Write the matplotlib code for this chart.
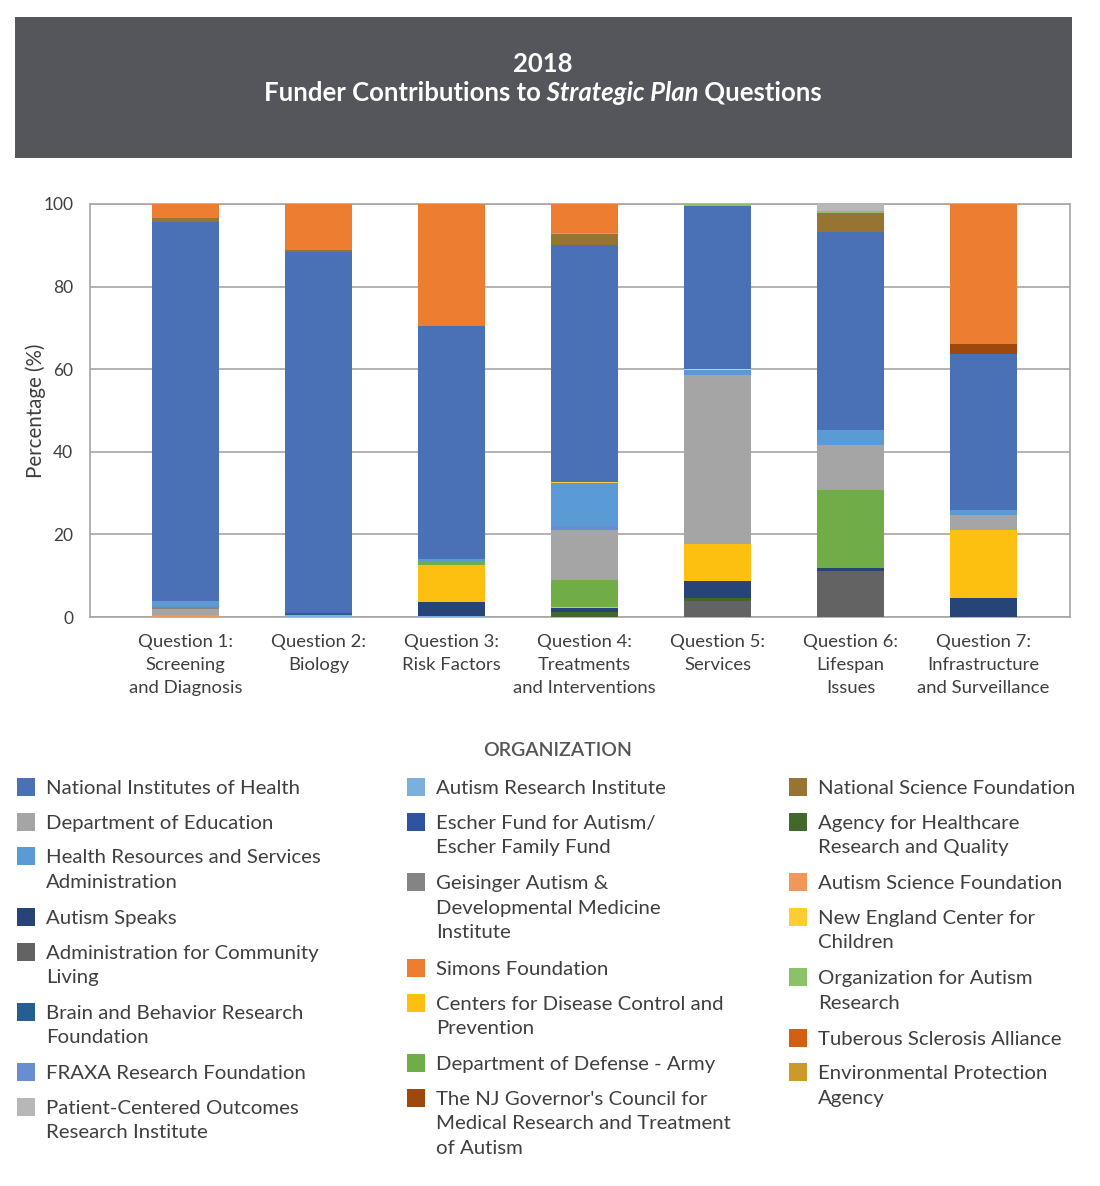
import matplotlib
matplotlib.use("Agg")
import matplotlib.pyplot as plt
from matplotlib.patches import Rectangle
from matplotlib.text import Annotation
import numpy as np

# figure size in pixels
W, H = 1100, 1186

questions = [
    "Question 1:\nScreening\nand Diagnosis",
    "Question 2:\nBiology",
    "Question 3:\nRisk Factors",
    "Question 4:\nTreatments\nand Interventions",
    "Question 5:\nServices",
    "Question 6:\nLifespan\nIssues",
    "Question 7:\nInfrastructure\nand Surveillance",
]

# percentage share of each funder per question (Q1..Q7)
acl = [0, 0, 0, 0, 3.9, 11.2, 0]
ahrq = [0, 0, 0, 1.1, 0.6, 0, 0]
ari = [0, 0.3, 0.3, 0, 0, 0, 0]
asf = [0.5, 0.3, 0, 0, 0, 0, 0]
autism_speaks = [0, 0, 3.3, 1.0, 4.1, 0.6, 4.6]
bbrf = [0, 0.4, 0, 0, 0, 0, 0]
cdc = [0, 0, 8.9, 0.4, 9.1, 0, 16.4]
dod = [0, 0, 0.8, 6.4, 0, 18.9, 0]
doe = [1.5, 0, 0, 12.1, 41.0, 11.0, 3.6]
epa = [0, 0, 0, 0, 0, 0, 0]
escher = [0, 0, 0, 0, 0, 0, 0]
fraxa = [0, 0, 0, 1.0, 0, 0, 0]
geisinger = [0.5, 0, 0, 0, 0, 0, 0]
hrsa = [1.4, 0, 0.7, 10.5, 1.0, 3.6, 1.4]
necc = [0, 0, 0, 0.3, 0.4, 0, 0]
nih = [91.8, 87.4, 56.4, 57.2, 39.4, 47.8, 37.8]
nsf = [1.0, 0.5, 0, 2.7, 0, 4.6, 0]
nj_council = [0, 0, 0, 0, 0, 0, 2.3]
oar = [0, 0, 0, 0.2, 0.4, 0.5, 0]
pcori = [0, 0, 0, 0, 0, 1.8, 0]
simons = [3.3, 11.1, 29.6, 7.2, 0, 0, 33.9]
tsa = [0, 0, 0, 0, 0, 0, 0]

# stacking order (bottom to top)
funders = [
    ("Administration for Community Living", "#636363", acl),
    ("Agency for Healthcare Research and Quality", "#43682b", ahrq),
    ("Autism Research Institute", "#7cafdd", ari),
    ("Autism Science Foundation", "#f1975a", asf),
    ("Autism Speaks", "#264478", autism_speaks),
    ("Brain and Behavior Research Foundation", "#255e91", bbrf),
    ("Centers for Disease Control and Prevention", "#fdbf10", cdc),
    ("Department of Defense - Army", "#70ad47", dod),
    ("Department of Education", "#a5a5a5", doe),
    ("Environmental Protection Agency", "#cc9a2a", epa),
    ("Escher Fund for Autism/Escher Family Fund", "#2e54a1", escher),
    ("FRAXA Research Foundation", "#698ed0", fraxa),
    ("Geisinger Autism & Developmental Medicine Institute", "#848484", geisinger),
    ("Health Resources and Services Administration", "#5b9bd5", hrsa),
    ("New England Center for Children", "#ffcd33", necc),
    ("National Institutes of Health", "#4a71b6", nih),
    ("National Science Foundation", "#977431", nsf),
    ("The NJ Governor's Council", "#9e480e", nj_council),
    ("Organization for Autism Research", "#8cc168", oar),
    ("Patient-Centered Outcomes Research Institute", "#b7b7b7", pcori),
    ("Simons Foundation", "#ed7d31", simons),
    ("Tuberous Sclerosis Alliance", "#d26012", tsa),
]

# legend columns as printed (label text, colour)
legend_cols = [
    [
        ("National Institutes of Health", "#4a71b6"),
        ("Department of Education", "#a5a5a5"),
        ("Health Resources and Services\nAdministration", "#5b9bd5"),
        ("Autism Speaks", "#264478"),
        ("Administration for Community\nLiving", "#636363"),
        ("Brain and Behavior Research\nFoundation", "#255e91"),
        ("FRAXA Research Foundation", "#698ed0"),
        ("Patient-Centered Outcomes\nResearch Institute", "#b7b7b7"),
    ],
    [
        ("Autism Research Institute", "#7cafdd"),
        ("Escher Fund for Autism/\nEscher Family Fund", "#2e54a1"),
        ("Geisinger Autism &\nDevelopmental Medicine\nInstitute", "#848484"),
        ("Simons Foundation", "#ed7d31"),
        ("Centers for Disease Control and\nPrevention", "#fdbf10"),
        ("Department of Defense - Army", "#70ad47"),
        ("The NJ Governor's Council for\nMedical Research and Treatment\nof Autism", "#9e480e"),
    ],
    [
        ("National Science Foundation", "#977431"),
        ("Agency for Healthcare\nResearch and Quality", "#43682b"),
        ("Autism Science Foundation", "#f1975a"),
        ("New England Center for\nChildren", "#ffcd33"),
        ("Organization for Autism\nResearch", "#8cc168"),
        ("Tuberous Sclerosis Alliance", "#d26012"),
        ("Environmental Protection\nAgency", "#cc9a2a"),
    ],
]

TEXT = "#3f3f3f"
plt.rcParams['font.family'] = ['Lato', 'DejaVu Sans']


def fx(x):
    return x / W


def fy(y):
    return 1 - y / H


fig = plt.figure(figsize=(W / 100, H / 100), dpi=100)

# title banner
fig.patches.append(Rectangle((fx(15), fy(158)), fx(1072) - fx(15), (158 - 17) / H,
                             transform=fig.transFigure, facecolor="#54565b",
                             edgecolor="none", zorder=0))
fig.text(fx(543), fy(64), "2018", color="white", fontsize=18.5, fontweight="bold",
         ha="center", va="center")

t1 = fig.text(0, fy(93), "Funder Contributions to", color="white", fontsize=18.5,
              fontweight="bold", ha="left", va="center")
t2 = fig.add_artist(Annotation(" Strategic Plan", xy=(1, 0), xycoords=t1,
                               va="bottom", color="white", fontsize=18.5,
                               fontweight="bold", style="italic"))
t3 = fig.add_artist(Annotation(" Questions", xy=(1, 0), xycoords=t2,
                               va="bottom", color="white", fontsize=18.5,
                               fontweight="bold"))

# chart
ax = fig.add_axes([fx(90), fy(617), (1070 - 90) / W, (617 - 204) / H])
x = np.arange(len(questions))
bottom = np.zeros(len(questions))
for name, color, vals in funders:
    vals = np.array(vals, dtype=float)
    ax.bar(x, vals, width=0.5, bottom=bottom, color=color, linewidth=0, label=name, zorder=3)
    bottom += vals

ax.set_xlim(-0.72, 6.65)
ax.set_ylim(0, 100)
ax.set_yticks(np.arange(0, 101, 20))
ax.set_xticks(x)
ax.set_xticklabels(questions, fontsize=13.3, color=TEXT, linespacing=1.55)
ax.tick_params(axis="both", length=0, colors=TEXT)
ax.tick_params(axis="x", pad=12)
ax.tick_params(axis="y", pad=12, labelsize=12.5)
ax.grid(axis="y", color="#a6a6a6", linewidth=1.2, zorder=0)
for s in ax.spines.values():
    s.set_color("#a6a6a6")
    s.set_linewidth(1.2)
ax.set_ylabel("Percentage (%)", fontsize=14.8, color=TEXT)
ax.yaxis.set_label_coords((46 - 90) / 980, 0.5)

# legend, drawn by hand in three columns
fig.text(fx(558), fy(750), "ORGANIZATION", fontsize=14, color="#555555",
         ha="center", va="center", fontweight="semibold")
col_x = [17, 407, 789]
for cx, entries in zip(col_x, legend_cols):
    y = 787
    for label, color in entries:
        fig.patches.append(Rectangle((fx(cx), fy(y + 9)), 18 / W, 18 / H,
                                     transform=fig.transFigure, facecolor=color,
                                     edgecolor="none"))
        fig.text(fx(cx + 29), fy(y - 7), label, fontsize=14.7, color=TEXT,
                 ha="left", va="top", linespacing=1.53)
        y += 34.7 + 25.7 * label.count("\n")

# centre the mixed-style title line
fig.canvas.draw()
r = fig.canvas.get_renderer()
left = t1.get_window_extent(r).x0
right = t3.get_window_extent(r).x1
t1.set_x((543 - (right - left) / 2) / W)

fig.savefig("out.png", dpi=100)
